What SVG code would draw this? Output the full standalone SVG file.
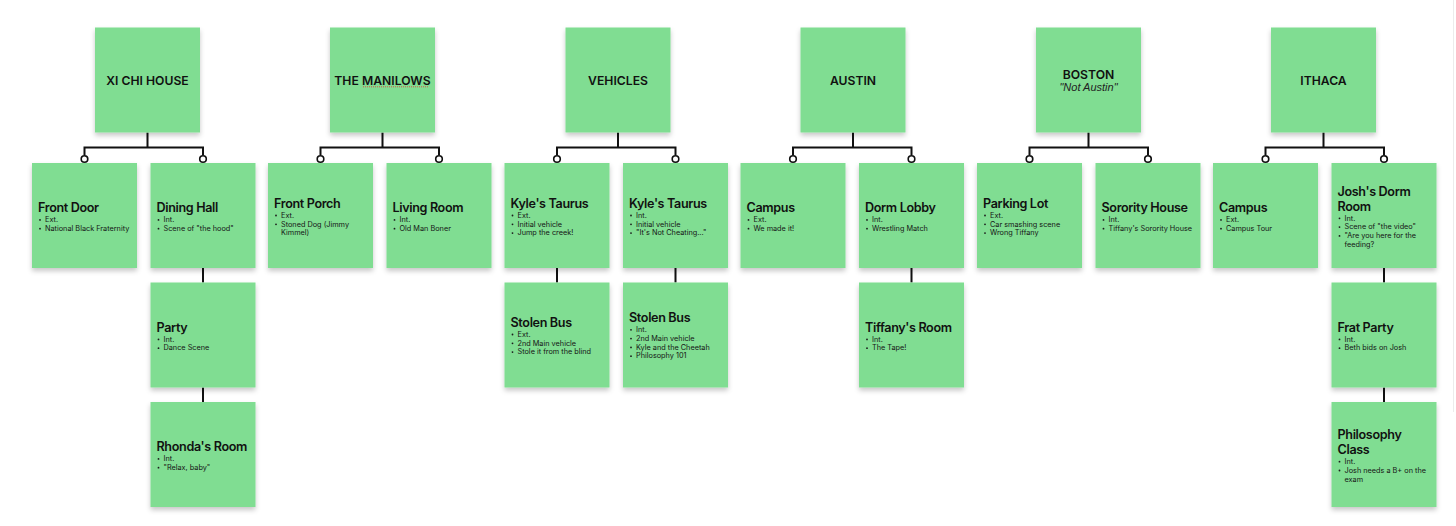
<svg xmlns="http://www.w3.org/2000/svg" width="1456" height="526" viewBox="0 0 1456 526">
<defs>
<filter id="sh" x="-20%" y="-20%" width="140%" height="150%">
<feDropShadow dx="0" dy="3" stdDeviation="2.5" flood-color="#000" flood-opacity="0.22"/>
</filter>
<style>
.n{fill:#80dd92;filter:url(#sh)}
.t{font-family:Inter,"Noto Sans","Liberation Sans",sans-serif;font-size:12.2px;font-weight:600;text-anchor:middle;fill:#111}
.i{font-family:"Liberation Sans",Arial,sans-serif;font-size:11px;font-style:italic;text-anchor:middle;fill:#222}
.h{font-family:Inter,"Noto Sans","Liberation Sans",sans-serif;font-size:12.6px;font-weight:600;letter-spacing:-0.35px;fill:#111}
.b{font-family:Inter,"Noto Sans","Liberation Sans",sans-serif;font-size:7.3px;fill:#151515}
.d{fill:#1c1c1c}
.c{fill:none;stroke:#111;stroke-width:2}
.o{fill:#fff;stroke:#111;stroke-width:1.6}
</style>
</defs>
<rect width="1456" height="526" fill="#fff"/>
<line x1="1453.5" y1="0" x2="1453.5" y2="412" stroke="#ececec" stroke-width="1"/>

<g id="connectors">
<path class="c" d="M147.5 132.5V147.5M84.5 155V147.5H203V155M203 268V282.5M203 387.5V402"/>
<path class="c" d="M382.5 132.5V147.5M320.5 155V147.5H439V155"/>
<path class="c" d="M618 132.5V147.5M557 155V147.5H675.5V155M557 268V282.5M675.5 268V282.5"/>
<path class="c" d="M853 132.5V147.5M793 155V147.5H911.5V155M911.5 268V282.5"/>
<path class="c" d="M1088.5 132.5V147.5M1029.5 155V147.5H1148V155"/>
<path class="c" d="M1323.5 132.5V147.5M1265.5 155V147.5H1384V155M1384 268V282.5M1384 387.5V402"/>
<circle class="o" cx="84.5" cy="159" r="3.3"/><circle class="o" cx="203" cy="159" r="3.3"/>
<circle class="o" cx="320.5" cy="159" r="3.3"/><circle class="o" cx="439" cy="159" r="3.3"/>
<circle class="o" cx="557" cy="159" r="3.3"/><circle class="o" cx="675.5" cy="159" r="3.3"/>
<circle class="o" cx="793" cy="159" r="3.3"/><circle class="o" cx="911.5" cy="159" r="3.3"/>
<circle class="o" cx="1029.5" cy="159" r="3.3"/><circle class="o" cx="1148" cy="159" r="3.3"/>
<circle class="o" cx="1265.5" cy="159" r="3.3"/><circle class="o" cx="1384" cy="159" r="3.3"/>
</g>

<!-- top nodes -->
<g id="xi-chi-house" transform="translate(95,27.5)"><rect class="n" width="105" height="105"/><text class="t" x="52.5" y="57.5">XI CHI HOUSE</text></g>
<g id="the-manilows" transform="translate(330,27.5)"><rect class="n" width="105" height="105"/><text class="t" x="52.5" y="57.5">THE MANILOWS</text><line x1="33" y1="59.3" x2="99" y2="59.3" stroke="#e0463c" stroke-width="0.9" stroke-dasharray="1 1"/></g>
<g id="vehicles" transform="translate(565.5,27.5)"><rect class="n" width="105" height="105"/><text class="t" x="52.5" y="57.5">VEHICLES</text></g>
<g id="austin" transform="translate(800.5,27.5)"><rect class="n" width="105" height="105"/><text class="t" x="52.5" y="57.5">AUSTIN</text></g>
<g id="boston" transform="translate(1036,27.5)"><rect class="n" width="105" height="105"/><text class="t" x="52.5" y="51.5">BOSTON</text><text class="i" x="52.5" y="63.5">"Not Austin"</text></g>
<g id="ithaca" transform="translate(1271,27.5)"><rect class="n" width="105" height="105"/><text class="t" x="52.5" y="57.5">ITHACA</text></g>

<!-- XI CHI HOUSE children -->
<g id="front-door" transform="translate(32,163)"><rect class="n" width="105" height="105"/><text class="h" x="6" y="49.1">Front Door</text>
<circle class="d" cx="8" cy="56.9" r="0.9"/><text class="b" x="13" y="59.1">Ext.</text>
<circle class="d" cx="8" cy="65.7" r="0.9"/><text class="b" x="13" y="67.9">National Black Fraternity</text></g>
<g id="dining-hall" transform="translate(150.5,163)"><rect class="n" width="105" height="105"/><text class="h" x="6" y="49.1">Dining Hall</text>
<circle class="d" cx="8" cy="56.9" r="0.9"/><text class="b" x="13" y="59.1">Int.</text>
<circle class="d" cx="8" cy="65.7" r="0.9"/><text class="b" x="13" y="67.9">Scene of "the hood"</text></g>
<g id="party" transform="translate(150.5,282.5)"><rect class="n" width="105" height="105"/><text class="h" x="6" y="49.1">Party</text>
<circle class="d" cx="8" cy="56.9" r="0.9"/><text class="b" x="13" y="59.1">Int.</text>
<circle class="d" cx="8" cy="65.7" r="0.9"/><text class="b" x="13" y="67.9">Dance Scene</text></g>
<g id="rhondas-room" transform="translate(150.5,402)"><rect class="n" width="105" height="105"/><text class="h" x="6" y="49.1">Rhonda's Room</text>
<circle class="d" cx="8" cy="56.9" r="0.9"/><text class="b" x="13" y="59.1">Int.</text>
<circle class="d" cx="8" cy="65.7" r="0.9"/><text class="b" x="13" y="67.9">"Relax, baby"</text></g>

<!-- THE MANILOWS children -->
<g id="front-porch" transform="translate(268,163)"><rect class="n" width="105" height="105"/><text class="h" x="6" y="44.7">Front Porch</text>
<circle class="d" cx="8" cy="52.5" r="0.9"/><text class="b" x="13" y="54.7">Ext.</text>
<circle class="d" cx="8" cy="61.3" r="0.9"/><text class="b" x="13" y="63.5">Stoned Dog (Jimmy</text><text class="b" x="13" y="72.3">Kimmel)</text></g>
<g id="living-room" transform="translate(386.5,163)"><rect class="n" width="105" height="105"/><text class="h" x="6" y="49.1">Living Room</text>
<circle class="d" cx="8" cy="56.9" r="0.9"/><text class="b" x="13" y="59.1">Int.</text>
<circle class="d" cx="8" cy="65.7" r="0.9"/><text class="b" x="13" y="67.9">Old Man Boner</text></g>

<!-- VEHICLES children -->
<g id="kyles-taurus-ext" transform="translate(504.5,163)"><rect class="n" width="105" height="105"/><text class="h" x="6" y="44.7">Kyle's Taurus</text>
<circle class="d" cx="8" cy="52.5" r="0.9"/><text class="b" x="13" y="54.7">Ext.</text>
<circle class="d" cx="8" cy="61.3" r="0.9"/><text class="b" x="13" y="63.5">Initial vehicle</text>
<circle class="d" cx="8" cy="70.1" r="0.9"/><text class="b" x="13" y="72.3">Jump the creek!</text></g>
<g id="kyles-taurus-int" transform="translate(623,163)"><rect class="n" width="105" height="105"/><text class="h" x="6" y="44.7">Kyle's Taurus</text>
<circle class="d" cx="8" cy="52.5" r="0.9"/><text class="b" x="13" y="54.7">Int.</text>
<circle class="d" cx="8" cy="61.3" r="0.9"/><text class="b" x="13" y="63.5">Initial vehicle</text>
<circle class="d" cx="8" cy="70.1" r="0.9"/><text class="b" x="13" y="72.3">"It's Not Cheating..."</text></g>
<g id="stolen-bus-ext" transform="translate(504.5,282.5)"><rect class="n" width="105" height="105"/><text class="h" x="6" y="44.2">Stolen Bus</text>
<circle class="d" cx="8" cy="52" r="0.9"/><text class="b" x="13" y="54.2">Ext.</text>
<circle class="d" cx="8" cy="60.8" r="0.9"/><text class="b" x="13" y="63">2nd Main vehicle</text>
<circle class="d" cx="8" cy="69.6" r="0.9"/><text class="b" x="13" y="71.8">Stole it from the blind</text></g>
<g id="stolen-bus-int" transform="translate(623,282.5)"><rect class="n" width="105" height="105"/><text class="h" x="6" y="39.5">Stolen Bus</text>
<circle class="d" cx="8" cy="47.3" r="0.9"/><text class="b" x="13" y="49.5">Int.</text>
<circle class="d" cx="8" cy="56.1" r="0.9"/><text class="b" x="13" y="58.3">2nd Main vehicle</text>
<circle class="d" cx="8" cy="64.9" r="0.9"/><text class="b" x="13" y="67.1">Kyle and the Cheetah</text>
<circle class="d" cx="8" cy="73.7" r="0.9"/><text class="b" x="13" y="75.9">Philosophy 101</text></g>

<!-- AUSTIN children -->
<g id="campus-austin" transform="translate(740.5,163)"><rect class="n" width="105" height="105"/><text class="h" x="6" y="49.1">Campus</text>
<circle class="d" cx="8" cy="56.9" r="0.9"/><text class="b" x="13" y="59.1">Ext.</text>
<circle class="d" cx="8" cy="65.7" r="0.9"/><text class="b" x="13" y="67.9">We made it!</text></g>
<g id="dorm-lobby" transform="translate(859,163)"><rect class="n" width="105" height="105"/><text class="h" x="6" y="49.1">Dorm Lobby</text>
<circle class="d" cx="8" cy="56.9" r="0.9"/><text class="b" x="13" y="59.1">Int.</text>
<circle class="d" cx="8" cy="65.7" r="0.9"/><text class="b" x="13" y="67.9">Wrestling Match</text></g>
<g id="tiffanys-room" transform="translate(859,282.5)"><rect class="n" width="105" height="105"/><text class="h" x="6" y="49.1">Tiffany's Room</text>
<circle class="d" cx="8" cy="56.9" r="0.9"/><text class="b" x="13" y="59.1">Int.</text>
<circle class="d" cx="8" cy="65.7" r="0.9"/><text class="b" x="13" y="67.9">The Tape!</text></g>

<!-- BOSTON children -->
<g id="parking-lot" transform="translate(977,163)"><rect class="n" width="105" height="105"/><text class="h" x="6" y="44.7">Parking Lot</text>
<circle class="d" cx="8" cy="52.5" r="0.9"/><text class="b" x="13" y="54.7">Ext.</text>
<circle class="d" cx="8" cy="61.3" r="0.9"/><text class="b" x="13" y="63.5">Car smashing scene</text>
<circle class="d" cx="8" cy="70.1" r="0.9"/><text class="b" x="13" y="72.3">Wrong Tiffany</text></g>
<g id="sorority-house" transform="translate(1095.5,163)"><rect class="n" width="105" height="105"/><text class="h" x="6" y="49.1">Sorority House</text>
<circle class="d" cx="8" cy="56.9" r="0.9"/><text class="b" x="13" y="59.1">Int.</text>
<circle class="d" cx="8" cy="65.7" r="0.9"/><text class="b" x="13" y="67.9">Tiffany's Sorority House</text></g>

<!-- ITHACA children -->
<g id="campus-ithaca" transform="translate(1213,163)"><rect class="n" width="105" height="105"/><text class="h" x="6" y="49.1">Campus</text>
<circle class="d" cx="8" cy="56.9" r="0.9"/><text class="b" x="13" y="59.1">Ext.</text>
<circle class="d" cx="8" cy="65.7" r="0.9"/><text class="b" x="13" y="67.9">Campus Tour</text></g>
<g id="joshs-dorm-room" transform="translate(1331.5,163)"><rect class="n" width="105" height="105"/><text class="h" x="6" y="33">Josh's Dorm</text><text class="h" x="6" y="47.5">Room</text>
<circle class="d" cx="8" cy="55.3" r="0.9"/><text class="b" x="13" y="57.5">Int.</text>
<circle class="d" cx="8" cy="64.1" r="0.9"/><text class="b" x="13" y="66.3">Scene of "the video"</text>
<circle class="d" cx="8" cy="72.9" r="0.9"/><text class="b" x="13" y="75.1">"Are you here for the</text><text class="b" x="13" y="83.9">feeding?</text></g>
<g id="frat-party" transform="translate(1331.5,282.5)"><rect class="n" width="105" height="105"/><text class="h" x="6" y="49.1">Frat Party</text>
<circle class="d" cx="8" cy="56.9" r="0.9"/><text class="b" x="13" y="59.1">Int.</text>
<circle class="d" cx="8" cy="65.7" r="0.9"/><text class="b" x="13" y="67.9">Beth bids on Josh</text></g>
<g id="philosophy-class" transform="translate(1331.5,402)"><rect class="n" width="105" height="105"/><text class="h" x="6" y="37.4">Philosophy</text><text class="h" x="6" y="51.9">Class</text>
<circle class="d" cx="8" cy="59.7" r="0.9"/><text class="b" x="13" y="61.9">Int.</text>
<circle class="d" cx="8" cy="68.5" r="0.9"/><text class="b" x="13" y="70.7">Josh needs a B+ on the</text><text class="b" x="13" y="79.5">exam</text></g>
</svg>
